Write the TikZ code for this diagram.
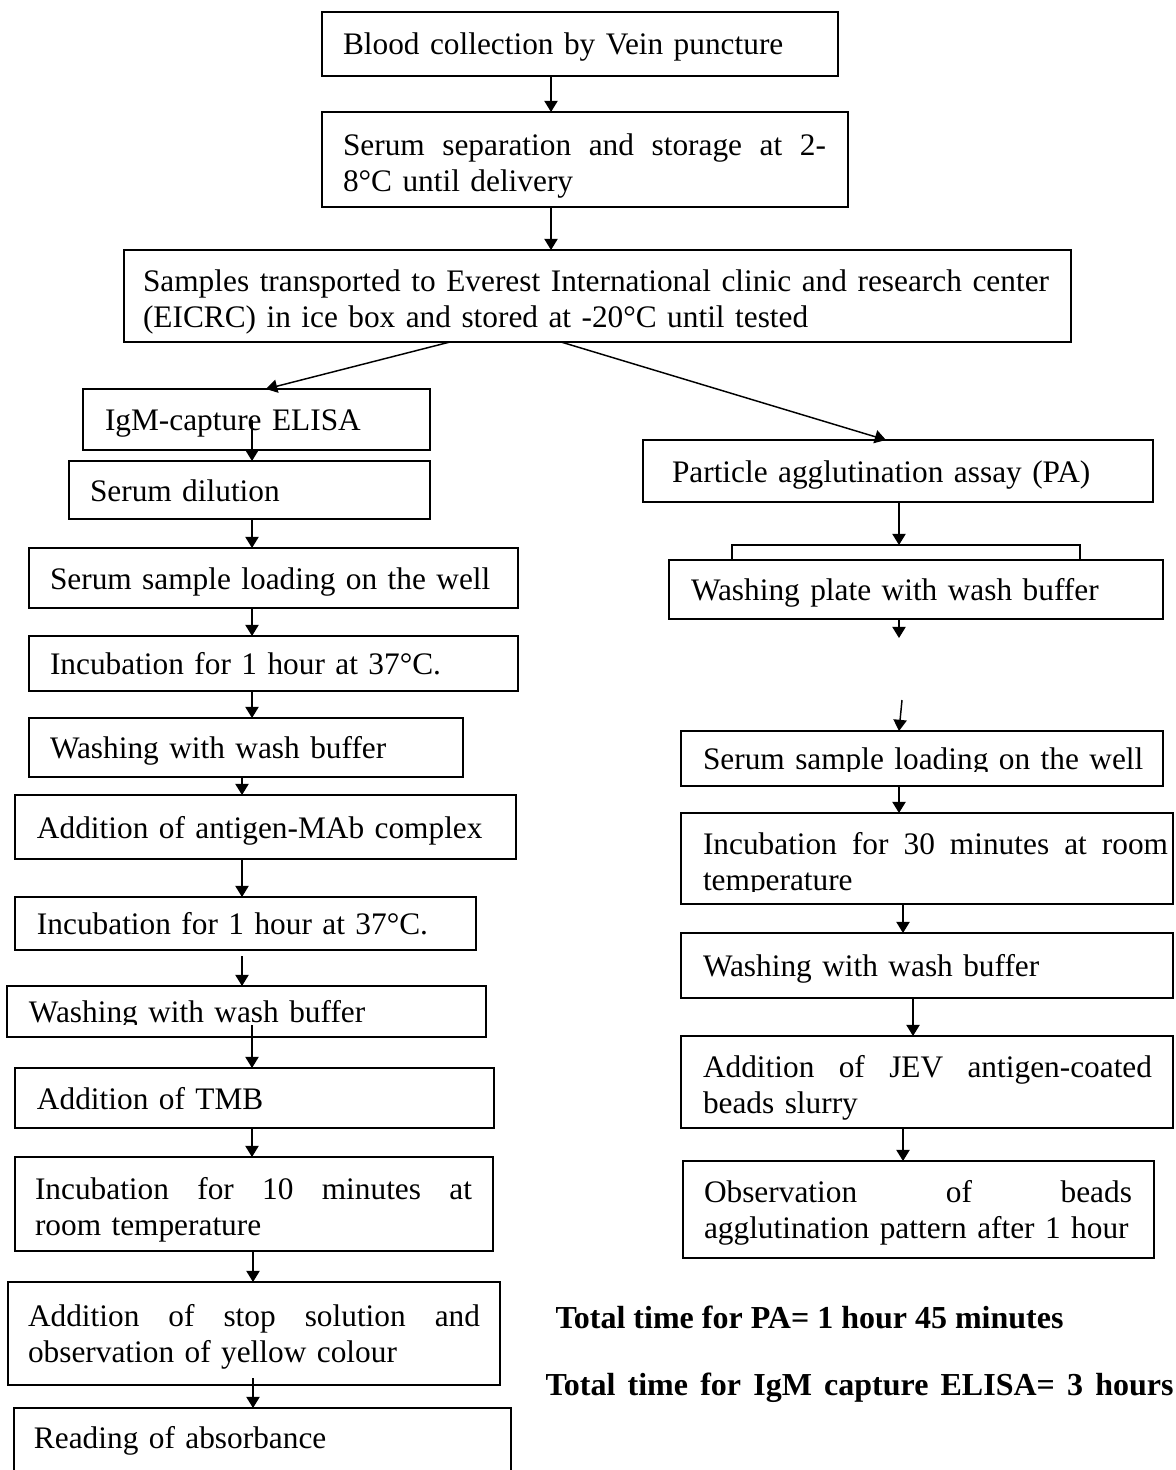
\documentclass[tikz,border=0pt]{standalone}
\usepackage{fontspec}
\setmainfont{Liberation Serif}
\usetikzlibrary{arrows.meta}
\tolerance=9999 \hbadness=10000 \hfuzz=8pt \hyphenpenalty=10000 \exhyphenpenalty=10000
\newcommand\jline[2]{\hbox to #1{#2}}
\tikzset{
  fb/.code n args={6}{%
    \pgfmathsetmacro\fbW{(#3-#1)*0.375}%
    \pgfmathsetmacro\fbH{(#4-#2)*0.375}%
    \pgfmathsetmacro\fbL{#5*0.375}%
    \pgfmathsetmacro\fbR{#6*0.375}%
    \edef\fbtmp{\noexpand\tikzset{at={(#1,#2)}, anchor=north west,
      minimum width=\fbW pt, minimum height=\fbH pt, text width=\fbW pt,
      execute at begin node={\noexpand\hyphenpenalty=10000\noexpand\leftskip=\fbL pt\noexpand\rightskip=\fbR pt\noexpand\relax\noexpand\rule{0pt}{12pt}},
      execute at end node={\noexpand\rule[-3.75pt]{0pt}{3.75pt}}}}%
    \fbtmp
  },
  stepbox/.style={draw=black, line width=0.7pt, fill=white, inner sep=0pt, outer sep=0pt,
    font=\fontsize{11.75}{13.5}\selectfont},
  arr/.style={line width=0.55pt, -{Triangle[length=4.2pt,width=5pt]}},
  mask/.style={fill=white, draw=none},
  total/.style={anchor=west, inner sep=0pt, font=\fontsize{12}{13.5}\selectfont\bfseries},
}
\begin{document}
\begin{tikzpicture}[x=0.375pt, y=-0.375pt]
\useasboundingbox (0,0) rectangle (1175,1470);

% top chain
\node[stepbox, fb={322}{12}{838}{76}{21}{21}] (b1) {Blood collection by Vein puncture};
\node[stepbox, fb={322}{112}{848}{207}{21}{22}] (b2) {\rule{0pt}{13.9pt}\jline{181.125pt}{Serum\hfill\ separation\hfill\ and\hfill\ storage\hfill\ at\hfill\ 2-}\newline 8°C until delivery};
\node[stepbox, fb={124}{250}{1071}{342}{19}{22}] (b3) {\rule{0pt}{13.9pt}\jline{339.75pt}{Samples\hfill\ transported\hfill\ to\hfill\ Everest\hfill\ International\hfill\ clinic\hfill\ and\hfill\ research\hfill\ center}\newline (EICRC) in ice box and stored at -20°C until tested};

% left column
\node[stepbox, fb={83}{389}{430}{450}{22}{10}] (igm) {IgM-capture ELISA};
\node[stepbox, fb={69}{461}{430}{519}{21}{10}] (dil) {Serum dilution};
\node[stepbox, fb={29}{548}{518}{608}{21}{10}] (load) {Serum sample loading on the well};
\node[stepbox, fb={29}{636}{518}{691}{21}{10}] (inc1) {Incubation for 1 hour at 37°C.};
\node[stepbox, fb={29}{718}{463}{777}{21}{10}] (wash1) {Washing with wash buffer};
\node[stepbox, fb={15}{795}{516}{859}{22}{10}] (add) {Addition of antigen-MAb complex};
\node[stepbox, fb={15}{897}{476}{950}{22}{10}] (inc2) {Incubation for 1 hour at 37°C.};
\node[stepbox, fb={7}{986}{486}{1037}{22}{10}] (wash2) {Washing with wash buffer};
\node[stepbox, fb={15}{1068}{494}{1128}{22}{10}] (tmb) {Addition of TMB};
\node[stepbox, fb={15}{1157}{493}{1251}{20}{21}] (inc10) {\rule{0pt}{13.9pt}\jline{163.875pt}{Incubation\hfill\ for\hfill\ 10\hfill\ minutes\hfill\ at}\newline room temperature};
\node[stepbox, fb={8}{1282}{500}{1385}{20}{20}] (stop) {\jline{169.5pt}{Addition\hfill\ of\hfill\ stop\hfill\ solution\hfill\ and}\newline observation of yellow colour};
\node[stepbox, draw=none, fb={14}{1408}{511}{1466}{20}{10}] (read) {Reading of absorbance};
\draw[line width=0.7pt] ([yshift=-20pt]read.south west) -- (read.north west) -- (read.north east) -- ([yshift=-20pt]read.south east);

% right column
\node[stepbox, fb={643}{440}{1153}{502}{29}{10}] (pa) {Particle agglutination assay (PA)};
\node[stepbox, fb={732}{545}{1080}{600}{0}{0}] (back) {};
\node[stepbox, fb={669}{560}{1163}{619}{22}{10}] (wplate) {Washing plate with wash buffer};
\node[stepbox, fb={681}{731}{1163}{786}{22}{5}] (rload) {Serum sample loading on the well};
\node[stepbox, fb={681}{813}{1173}{904}{22}{5}] (inc30) {\rule{0pt}{13.9pt}\jline{174.375pt}{Incubation\hfill\ for\hfill\ 30\hfill\ minutes\hfill\ at\hfill\ room}\newline temperature};
\node[stepbox, fb={681}{933}{1173}{998}{22}{10}] (rwash) {Washing with wash buffer};
\node[stepbox, fb={681}{1036}{1173}{1128}{22}{21}] (jev) {\rule{0pt}{13.9pt}\jline{168.375pt}{Addition\hfill\ of\hfill\ JEV\hfill\ antigen-coated}\newline beads slurry};
\node[stepbox, fb={683}{1161}{1154}{1258}{21}{10}] (obs) {\jline{160.5pt}{Observation\hfill\ of\hfill\ beads}\newline agglutination pattern after 1 hour};

% totals
\node[total] (tpa) at (555,1317) {Total time for PA= 1 hour 45 minutes};
\node[total] (tigm) at (545,1388) {\makebox[235.5pt][s]{Total time for IgM capture ELISA= 3 hours}};

% clipped text bottoms
\fill[mask] (8.5,1025) rectangle (485,1036);
\fill[mask] (682,772) rectangle (1162,785);
\fill[mask] (682,892) rectangle (1172,903);

% column coordinates
\coordinate (xA) at (551,0);
\coordinate (xS1) at (450,0);
\coordinate (xE1) at (266,0);
\coordinate (xS2) at (561,0);
\coordinate (xE2) at (886,0);
\coordinate (xL) at (252,0);
\coordinate (xL2) at (242,0);
\coordinate (xL3) at (253,0);
\coordinate (xR) at (899,0);
\coordinate (xR2) at (903,0);
\coordinate (xR3) at (913,0);
\path (inc2.south -| xL2) ++(0,6) coordinate (s11);
\path (wash2.south -| xL) ++(0,-12) coordinate (s12);
\path (stop.south -| xL3) ++(0,-7) coordinate (s15);
\coordinate (e17) at (899,638);
\coordinate (s18) at (902,700);

% arrows
\draw[arr] (b1.south -| xA) -- (b2.north -| xA);
\draw[arr] (b2.south -| xA) -- (b3.north -| xA);
\draw[arr] (b3.south -| xS1) -- (igm.north -| xE1);
\draw[arr] (b3.south -| xS2) -- (pa.north -| xE2);
\draw[arr] (igm.center -| xL) -- (dil.north -| xL);
\draw[arr] (dil.south -| xL) -- (load.north -| xL);
\draw[arr] (load.south -| xL) -- (inc1.north -| xL);
\draw[arr] (inc1.south -| xL) -- (wash1.north -| xL);
\draw[arr] (wash1.south -| xL2) -- (add.north -| xL2);
\draw[arr] (add.south -| xL2) -- (inc2.north -| xL2);
\draw[arr] (s11) -- (wash2.north -| xL2);
\draw[arr] (s12) -- (tmb.north -| xL);
\draw[arr] (tmb.south -| xL) -- (inc10.north -| xL);
\draw[arr] (inc10.south -| xL3) -- (stop.north -| xL3);
\draw[arr] (s15) -- (read.north -| xL3);
\draw[arr] (pa.south -| xR) -- (back.north -| xR);
\draw[arr] (wplate.south -| xR) -- (e17);
\draw[arr] (s18) -- (rload.north -| xR);
\draw[arr] (rload.south -| xR) -- (inc30.north -| xR);
\draw[arr] (inc30.south -| xR2) -- (rwash.north -| xR2);
\draw[arr] (rwash.south -| xR3) -- (jev.north -| xR3);
\draw[arr] (jev.south -| xR2) -- (obs.north -| xR2);
\end{tikzpicture}
\end{document}
